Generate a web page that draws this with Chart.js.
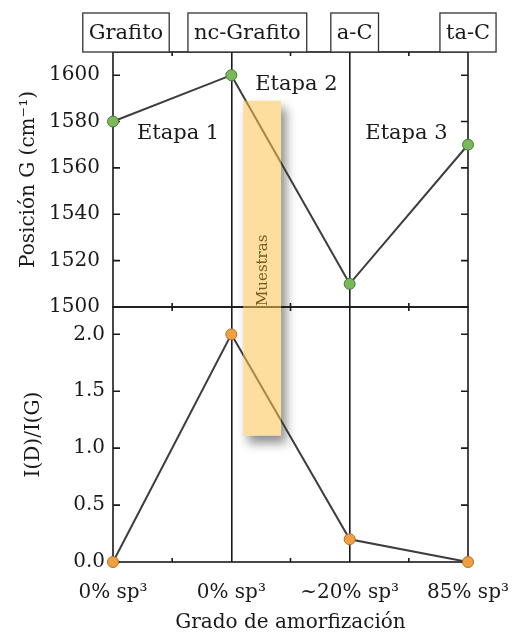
<!DOCTYPE html>
<html>
<head>
<meta charset="utf-8">
<script src="https://cdn.jsdelivr.net/npm/chart.js@4.4.0/dist/chart.umd.min.js"></script>
<style>
  html, body { margin: 0; padding: 0; background: #fff; }
</style>
</head>
<body>
<canvas id="amorf" width="512" height="642"></canvas>
<script>
// Datos: fases del carbono, posición del pico G y razón I(D)/I(G)
const fases       = ['Grafito', 'nc-Grafito', 'a-C', 'ta-C'];
const sp3Labels   = ['0% sp³', '0% sp³', '~20% sp³', '85% sp³'];
const posicionG   = [1580, 1600, 1510, 1570];
const razonDG     = [0, 2.0, 0.2, 0];
const posTicks    = [1500, 1520, 1540, 1560, 1580, 1600];
const razonTicks  = [0.0, 0.5, 1.0, 1.5, 2.0];
const etapas      = ['Etapa 1', 'Etapa 2', 'Etapa 3'];

const SERIF = 'DejaVu Serif';
const INK   = '#1a1a1a';

// mayores + puntos medios (marcas menores)
function conMenores(mayores) {
  const out = [];
  mayores.forEach((v, i) => {
    out.push(v);
    if (i < mayores.length - 1) out.push((v + mayores[i + 1]) / 2);
  });
  return out;
}

// marcos de cada panel con marcas hacia dentro
const marco = {
  id: 'marco',
  beforeDatasetsDraw(chart, args, opts) {
    const { ctx, chartArea: ca, scales } = chart;
    const x = scales.x;

    // sombra de la franja "Muestras"
    const m = opts.muestras;
    const mx0 = x.getPixelForValue(m.x0), mx1 = x.getPixelForValue(m.x1);
    const my0 = scales.yG.getPixelForValue(m.yTop), my1 = scales.yR.getPixelForValue(m.yBottom);
    ctx.save();
    ctx.shadowColor = 'rgba(0,0,0,0.45)';
    ctx.shadowBlur = 10;
    ctx.shadowOffsetX = 5;
    ctx.shadowOffsetY = 7;
    ctx.fillStyle = '#fff';
    ctx.fillRect(mx0, my0, mx1 - mx0, my1 - my0);
    ctx.restore();

    ctx.save();
    ctx.strokeStyle = INK;
    ctx.lineWidth = 1.6;
    for (const id of ['yG', 'yR']) {
      const s = scales[id];
      ctx.strokeRect(ca.left, s.top, ca.right - ca.left, s.bottom - s.top);
      const mayores = id === 'yG' ? posTicks : razonTicks;
      ctx.beginPath();
      s.ticks.forEach(t => {
        const y = s.getPixelForValue(t.value);
        const len = mayores.includes(t.value) ? 7 : 4;
        ctx.moveTo(ca.left, y);  ctx.lineTo(ca.left + len, y);
        ctx.moveTo(ca.right, y); ctx.lineTo(ca.right - len, y);
      });
      for (let i = 0; i < fases.length - 1; i++) {
        const px = x.getPixelForValue(i + 0.5);
        ctx.moveTo(px, s.top);    ctx.lineTo(px, s.top + 4);
        ctx.moveTo(px, s.bottom); ctx.lineTo(px, s.bottom - 4);
      }
      ctx.stroke();
    }
    ctx.restore();
  },
  afterDatasetsDraw(chart, args, opts) {
    const { ctx, chartArea: ca, scales } = chart;
    const x = scales.x, yG = scales.yG, yR = scales.yR;

    // franja semitransparente
    const m = opts.muestras;
    const mx0 = x.getPixelForValue(m.x0), mx1 = x.getPixelForValue(m.x1);
    const my0 = yG.getPixelForValue(m.yTop), my1 = yR.getPixelForValue(m.yBottom);
    ctx.save();
    ctx.fillStyle = 'rgba(252,194,80,0.55)';
    ctx.fillRect(mx0, my0, mx1 - mx0, my1 - my0);
    ctx.translate((mx0 + mx1) / 2 + 1, yG.getPixelForValue(1500) - 1);
    ctx.rotate(-Math.PI / 2);
    ctx.font = `15px "${SERIF}"`;
    ctx.fillStyle = '#7a5a22';
    ctx.textAlign = 'left';
    ctx.textBaseline = 'middle';
    ctx.fillText(m.text, 0, 0);
    ctx.restore();

    // etiquetas de etapa
    ctx.save();
    ctx.font = `21px "${SERIF}"`;
    ctx.fillStyle = INK;
    ctx.textAlign = 'center';
    ctx.textBaseline = 'middle';
    opts.etapas.forEach((e, i) => {
      ctx.fillText(etapas[i], x.getPixelForValue(e.x), yG.getPixelForValue(e.y));
    });

    // cajas con el nombre de cada fase
    ctx.lineWidth = 1.3;
    ctx.strokeStyle = '#333';
    const h = 39;
    fases.forEach((f, i) => {
      const w = ctx.measureText(f).width + 12;
      const cx = x.getPixelForValue(i) + opts.desfase[i];
      ctx.fillStyle = '#fff';
      ctx.fillRect(cx - w / 2, ca.top - h, w, h);
      ctx.strokeRect(cx - w / 2, ca.top - h, w, h);
      ctx.fillStyle = INK;
      ctx.fillText(f, cx, ca.top - h / 2 + 1);
    });
    ctx.restore();
  }
};

const fuente = { family: SERIF, size: 20 };

new Chart(document.getElementById('amorf'), {
  type: 'line',
  data: {
    labels: sp3Labels,
    datasets: [
      {
        data: posicionG,
        yAxisID: 'yG',
        borderColor: '#3d3d3d',
        borderWidth: 2,
        pointRadius: 5.5,
        pointBackgroundColor: '#7ab85a',
        pointBorderColor: '#4a7a35',
        pointBorderWidth: 1,
        tension: 0,
        clip: false
      },
      {
        data: razonDG,
        yAxisID: 'yR',
        borderColor: '#3d3d3d',
        borderWidth: 2,
        pointRadius: 5.5,
        pointBackgroundColor: '#f0a040',
        pointBorderColor: '#b0702a',
        pointBorderWidth: 1,
        tension: 0,
        clip: false
      }
    ]
  },
  options: {
    responsive: false,
    animation: false,
    layout: { padding: { top: 52, right: 44, left: 0, bottom: 0 } },
    plugins: {
      legend: { display: false },
      tooltip: { enabled: false },
      marco: {
        desfase: [13, 16, 5, 0],
        etapas: [
          { x: 0.55, y: 1575 },
          { x: 1.55, y: 1596 },
          { x: 2.48, y: 1575 }
        ],
        muestras: { text: 'Muestras', x0: 1.1, x1: 1.42, yTop: 1589, yBottom: 1.11 }
      }
    },
    scales: {
      x: {
        type: 'category',
        offset: false,
        grid: {
          color: c => (c.index === 1 || c.index === 2) ? INK : 'rgba(0,0,0,0)',
          lineWidth: 1.6,
          drawTicks: false
        },
        border: { display: false },
        ticks: { font: fuente, color: INK, padding: 19, maxRotation: 0, autoSkip: false },
        title: { display: true, text: 'Grado de amorfización', font: fuente, color: INK, padding: { bottom: 7 } },
        afterFit: s => { s.height = 80; s.paddingLeft = 0; s.paddingRight = 0; }
      },
      yR: {
        type: 'linear',
        position: 'left',
        stack: 'panel',
        stackWeight: 1,
        min: 0,
        max: 2.24,
        afterBuildTicks: s => { s.ticks = conMenores(razonTicks).map(v => ({ value: v })); },
        ticks: {
          font: fuente, color: INK, padding: 0,
          callback: v => razonTicks.includes(v) ? v.toFixed(1) : ''
        },
        grid: { display: false },
        border: { display: false },
        title: { display: true, text: 'I(D)/I(G)', font: fuente, color: INK, padding: { top: 22 } },
        afterFit: s => { s.width = 113; }
      },
      yG: {
        type: 'linear',
        position: 'left',
        stack: 'panel',
        stackWeight: 1,
        min: 1500,
        max: 1610,
        afterBuildTicks: s => { s.ticks = conMenores(posTicks).map(v => ({ value: v })); },
        ticks: {
          font: fuente, color: INK, padding: 5,
          callback: v => posTicks.includes(v) ? String(v) : ''
        },
        grid: { display: false },
        border: { display: false },
        title: { display: true, text: 'Posición G (cm⁻¹)', font: fuente, color: INK, padding: { top: 17 } },
        afterFit: s => { s.width = 113; }
      }
    }
  },
  plugins: [marco]
});
</script>
</body>
</html>
